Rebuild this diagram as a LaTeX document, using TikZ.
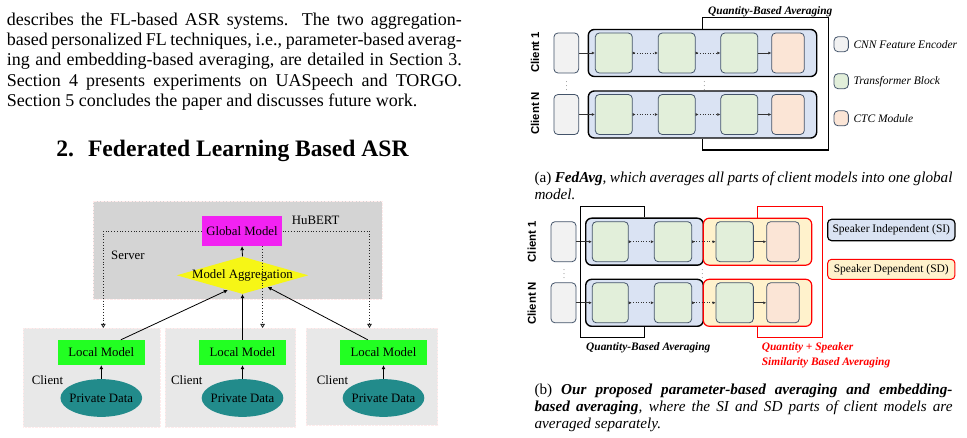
\documentclass[tikz,border=0pt]{standalone}
\usepackage{fontspec}
\setmainfont{Liberation Serif}
\newfontfamily\clientfont{Liberation Sans}
\usetikzlibrary{arrows.meta,positioning,shapes.geometric,calc}

\definecolor{servergray}{RGB}{212,212,212}
\definecolor{clientgray}{RGB}{232,232,232}
\definecolor{globalmag}{RGB}{242,34,242}
\definecolor{localgreen}{RGB}{34,255,34}
\definecolor{aggyellow}{RGB}{246,246,22}
\definecolor{datateal}{RGB}{34,139,139}
\definecolor{edgeslate}{RGB}{68,84,106}
\definecolor{encgray}{RGB}{242,242,242}
\definecolor{blockgreen}{RGB}{226,239,218}
\definecolor{ctcorange}{RGB}{251,229,214}
\definecolor{siblue}{RGB}{218,227,243}
\definecolor{sdyellow}{RGB}{255,242,204}
\definecolor{sdred}{RGB}{255,0,0}

\begin{document}
\begin{tikzpicture}[x=1pt,y=-1pt,
  bodytext/.style={inner sep=0pt,text width=455pt,align=justify,font=\fontsize{18}{20.3}\selectfont},
  captext/.style={inner sep=0pt,text width=418pt,align=justify,font=\fontsize{15.2}{17}\selectfont},
  fig/.style={font=\fontsize{12.8}{14}\selectfont,inner sep=0pt},
  panel/.style={draw=red!8,densely dotted,inner sep=0pt},
  srv/.style={panel,fill=servergray,minimum width=289pt,minimum height=98pt},
  cli/.style={panel,fill=clientgray,minimum height=99pt},
  gmodel/.style={fig,fill=globalmag,minimum width=80.6pt,minimum height=30pt},
  lmodel/.style={fig,fill=localgreen,minimum width=87.3pt,minimum height=25pt},
  agg/.style={fig,diamond,fill=aggyellow,minimum width=131.6pt,minimum height=37.3pt},
  pdata/.style={fig,ellipse,fill=datateal,minimum width=81.7pt,minimum height=37.7pt},
  up/.style={line width=0.8pt,-{Latex[length=4pt,width=4pt]}},
  down/.style={line width=0.8pt,black!85,dotted,-{Triangle[open,length=4pt,width=4.5pt]}},
  blk/.style={draw=edgeslate,line width=0.8pt,rounded corners=4pt,minimum height=40pt,inner sep=0pt},
  enc/.style={blk,fill=encgray,minimum width=24.7pt},
  tfm/.style={blk,fill=blockgreen,minimum width=37pt},
  ctc/.style={blk,fill=ctcorange,minimum width=32.6pt},
  sibox/.style={draw=black,line width=1.4pt,fill=siblue,rounded corners=6pt,inner sep=0pt,minimum height=47pt},
  sdbox/.style={draw=sdred,line width=1.2pt,fill=sdyellow,rounded corners=6pt,inner sep=0pt,minimum height=47pt},
  brk/.style={line width=1.1pt},
  flow/.style={black!80,line width=0.6pt,-{Latex[length=3pt,width=3pt]}},
  skip/.style={flow,dotted,{Latex[length=3pt,width=3pt,reversed]}-{Latex[length=3pt,width=3pt]}},
  lbl/.style={font=\fontsize{11.5}{13}\selectfont\itshape,inner sep=0pt,anchor=west},
  avg/.style={font=\fontsize{11.4}{15}\selectfont\bfseries\itshape,inner sep=0pt},
  cname/.style={font=\fontsize{11.4}{13}\selectfont\clientfont\bfseries,rotate=90,inner sep=0pt},
  vdot/.style={font=\fontsize{6}{6}\selectfont,inner sep=0pt}]
\useasboundingbox[fill=white] (0,0) rectangle (967,438);

% text of the left column
\node[bodytext,anchor=north west] (intro) at (6.7,12.7) {describes the FL-based ASR systems.  The two aggregation-\linebreak
  based personalized FL techniques, i.e., parameter-based averag-\linebreak
  ing and embedding-based averaging, are detailed in Section 3.\linebreak
  Section 4 presents experiments on UASpeech and TORGO.\linebreak
  Section 5 concludes the paper and discusses future work.};
\node[font=\fontsize{23.6}{26}\selectfont\bfseries,inner sep=0pt,anchor=base] (sec) at (232.5,156.7) {2.\hspace{14pt}Federated Learning Based ASR};

% server / client figure
\node[srv] (server) at (237.2,249.9) {};
\node[gmodel] (gm) at (242,231) {Global Model};
\node[fig,anchor=base west] (hubert) at (291.7,225) {HuBERT};
\node[fig,anchor=west] (srvlbl) at (111,255) {Server};
\node[agg] (agg) at (242.5,275.3) {\makebox[0pt]{Model Aggregation}};
\draw[up] (agg.north) -- (gm.south);

\node[cli,minimum width=136.7pt] (cl1) at (91.7,377.5) {};
\node[cli,minimum width=130.7pt] (cl2) at (230.3,377.5) {};
\node[cli,minimum width=131.7pt,minimum height=97pt] (cl3) at (371.8,376.5) {};
\foreach \i/\x/\cx in {1/101.3/31.7,2/242.5/171,3/383.5/316.7}{
  \node[lmodel] (lm\i) at (\x,352.5) {Local Model};
  \node[pdata] (pd\i) at (\x,398) {\makebox[0pt]{Private Data}};
  \node[fig,anchor=west] (cn\i) at (\cx,380) {Client};
  \draw[up] (pd\i) -- (lm\i);
}
\draw[up] (lm1.33) -- (agg.225);
\draw[up] (lm2) -- (agg.south);
\draw[up] (lm3.141) -- (agg.-25);

\coordinate (d1) at (103.3,328);
\coordinate (d2) at (262.6,328);
\coordinate (d3) at (369.5,328);
\draw[down] (gm.west) -| (d1);
\draw[down] (gm.south -| d2) -- (d2);
\draw[down] (gm.east) -| (d3);

% (a) FedAvg
\foreach \n/\y in {a1/53,aN/114.5}{
  \node[sibox,minimum width=228.4pt] (si\n) at (702.5,\y) {};
  \node[enc] (enc\n) at (566.3,\y) {};
  \node[tfm] (ta\n) at (613.8,\y) {};
  \node[tfm] (tb\n) at (676.7,\y) {};
  \node[tfm] (tc\n) at (739.3,\y) {};
  \node[ctc] (ct\n) at (788,\y) {};
  \draw[flow] (enc\n) -- (ta\n);
  \draw[skip] (ta\n) -- (tb\n);
  \draw[skip] (tb\n) -- (tc\n);
  \draw[flow] (tc\n) -- (ct\n);
}
\coordinate (qtop) at (702.7,17.3);
\coordinate (qbot) at (828.3,150);
\draw[brk] (sia1.north) -- (sia1.north |- qtop) -| (qbot) -| (siaN.south);
\node[avg,anchor=base] (qavga) at (770.3,14.5) {Quantity-Based Averaging};
\node[cname] (cla1) at (535,52.3) {Client 1};
\node[cname] (claN) at (535,113.3) {Client N};
\node[vdot] (dta) at (566.7,83.3) {$\vdots$};
\node[vdot] (dtb) at (704.3,83.3) {$\vdots$};

\node[blk,fill=encgray,minimum width=14.3pt,minimum height=15pt] (kenc) at (841.2,44.2) {};
\node[blk,fill=blockgreen,minimum width=14.3pt,minimum height=15pt] (ktfm) at (841.2,81.2) {};
\node[blk,fill=ctcorange,minimum width=14.3pt,minimum height=15pt] (kctc) at (841.2,118.3) {};
\node[lbl] (kenct) at (853.3,44.2) {CNN Feature Encoder};
\node[lbl] (ktfmt) at (853.3,81.2) {Transformer Block};
\node[lbl] (kctct) at (853.3,118.3) {CTC Module};

\node[captext,anchor=north west] (capa) at (534.3,171.3) {(a) \textbf{\textit{FedAvg}}\textit{, which averages all parts of client models into one global}\linebreak
  \textit{model.}};

% (b) SI / SD averaging
\foreach \n/\y in {1/241.7,N/302.8}{
  \node[sibox,minimum width=117.6pt] (sib\n) at (644.5,\y) {};
  \node[sdbox,minimum width=108.4pt] (sdb\n) at (757.5,\y) {};
  \node[enc,minimum width=25pt] (encb\n) at (563.5,\y) {};
  \node[tfm,minimum width=36pt] (ua\n) at (610.3,\y) {};
  \node[tfm,minimum width=37.4pt] (ub\n) at (673,\y) {};
  \node[tfm,minimum width=37.3pt] (uc\n) at (734.7,\y) {};
  \node[ctc] (cb\n) at (783,\y) {};
  \draw[flow] (encb\n) -- (ua\n);
  \draw[skip] (ua\n) -- (ub\n);
  \draw[skip] (ub\n) -- (uc\n);
  \draw[flow] (uc\n) -- (cb\n);
}
\coordinate (btl) at (580.7,206.7);
\coordinate (bbr) at (644,337.3);
\draw[brk] (sib1.north) -- (sib1.north |- btl) -- (btl) -- (btl |- bbr) -- (sibN.south |- bbr) -- (sibN.south);
\coordinate (rtl) at (757.3,206.7);
\coordinate (rbr) at (822.7,337.3);
\draw[brk,sdred] (sdb1.north) -- (sdb1.north |- rtl) -- (rtl -| rbr) -- (rbr) -- (sdbN.south |- rbr) -- (sdbN.south);
\node[cname] (clb1) at (531.7,241.7) {Client 1};
\node[cname] (clbN) at (531.7,303.3) {Client N};
\node[vdot] (dtc) at (564,271.7) {$\vdots$};
\node[vdot] (dtd) at (702.3,271.7) {$\vdots$};

\node[sibox,line width=1.2pt,rounded corners=4pt,minimum width=127.3pt,minimum height=21.4pt,font=\fontsize{11.5}{13}\selectfont] (legsi) at (891.3,230) {Speaker Independent (SI)};
\node[sdbox,line width=1pt,rounded corners=4pt,minimum width=127.3pt,minimum height=20pt,font=\fontsize{11.5}{13}\selectfont] (legsd) at (891.3,269.3) {Speaker Dependent (SD)};

\node[avg,anchor=base] (qavgb) at (648.3,350.5) {Quantity-Based Averaging};
\node[avg,text=sdred,align=left,anchor=north west] (qsavg) at (761.7,342.7) {Quantity + Speaker\\Similarity Based Averaging};

\node[captext,anchor=north west] (capb) at (534.3,384.2) {(b) \textbf{\textit{Our proposed parameter-based averaging and embedding-}}\linebreak
  \textbf{\textit{based averaging}}\textit{, where the SI and SD parts of client models are}\linebreak
  \textit{averaged separately.}};
\end{tikzpicture}
\end{document}
